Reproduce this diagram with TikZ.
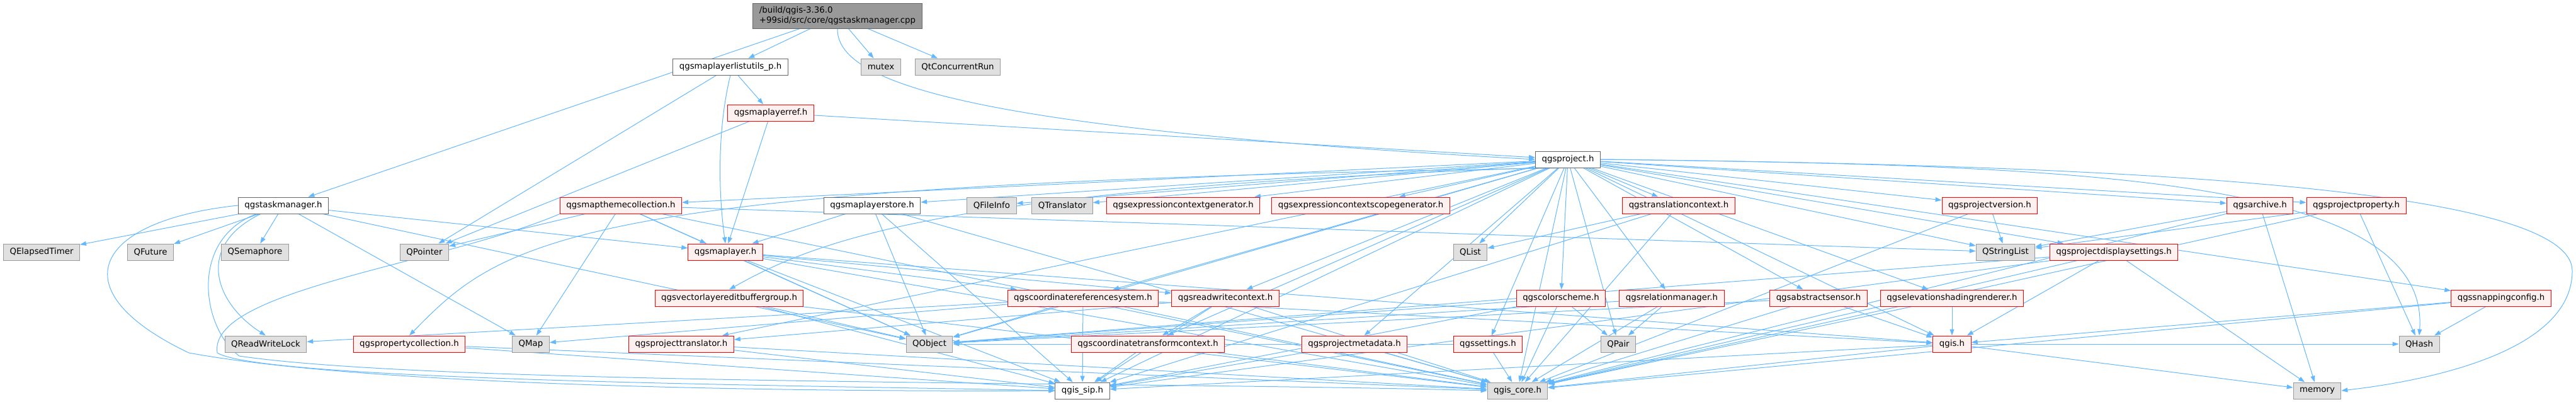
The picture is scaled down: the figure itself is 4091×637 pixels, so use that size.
\documentclass[tikz,border=0pt]{standalone}
\usepackage{fontspec}
\setmainfont{DejaVu Sans}
\usetikzlibrary{arrows.meta,backgrounds}
\definecolor{edgec}{HTML}{63B8FF}
\definecolor{bordgray}{HTML}{666666}
\definecolor{bordlight}{HTML}{999999}
\definecolor{rootfill}{HTML}{999999}
\definecolor{pinkfill}{HTML}{FFF0F0}
\definecolor{grayfill}{HTML}{E0E0E0}
\definecolor{redbord}{HTML}{FF0000}
\tikzset{
  basebox/.style={draw, line width=0.75pt, font=\fontsize{10pt}{12pt}\selectfont,
    inner xsep=7.5pt, inner ysep=0pt, minimum height=19.5pt, anchor=center, text=black},
  whitebox/.style={basebox, draw=bordgray, fill=white},
  redbox/.style={basebox, draw=redbord, fill=pinkfill},
  graybox/.style={basebox, draw=bordlight, fill=grayfill},
  rootbox/.style={basebox, draw=bordgray, fill=rootfill, align=left, minimum height=30pt},
  edge/.style={draw=edgec, line width=0.75pt, -{Triangle[length=7.5pt,width=5.25pt]}}
}
\begin{document}
\begin{tikzpicture}[x=0.75pt,y=-0.75pt]
\useasboundingbox (0,0) rectangle (4091,637);
% row 0
\node[rootbox] (root) at (1330,25) {/build/qgis-3.36.0\\+99sid/src/core/qgstaskmanager.cpp};
% row 1
\node[whitebox] (listutils) at (1160,106) {qgsmaplayerlistutils\_p.h};
\node[graybox] (mutex) at (1399,106) {mutex};
\node[graybox] (qtconc) at (1521,106) {QtConcurrentRun};
% row 2
\node[redbox] (layerref) at (1224,179) {qgsmaplayerref.h};
% row 3
\node[whitebox] (project) at (2490,253) {qgsproject.h};
% row 4
\node[whitebox] (taskmgr) at (450,326) {qgstaskmanager.h};
\node[redbox] (themecoll) at (986,326) {qgsmapthemecollection.h};
\node[whitebox] (layerstore) at (1385,326) {qgsmaplayerstore.h};
\node[graybox] (qfileinfo) at (1575,326) {QFileInfo};
\node[graybox] (qtranslator) at (1687,326) {QTranslator};
\node[redbox] (exprgen) at (1879,326) {qgsexpressioncontextgenerator.h};
\node[redbox] (exprscope) at (2161,326) {qgsexpressioncontextscopegenerator.h};
\node[redbox] (transctx) at (2666,326) {qgstranslationcontext.h};
\node[redbox] (projversion) at (3160,326) {qgsprojectversion.h};
\node[redbox] (archive) at (3589,326) {qgsarchive.h};
\node[redbox] (projprop) at (3742,326) {qgsprojectproperty.h};
% row 5
\node[graybox] (elapsed) at (66,400) {QElapsedTimer};
\node[graybox] (future) at (239,400) {QFuture};
\node[graybox] (semaphore) at (405,400) {QSemaphore};
\node[graybox] (qpointer) at (674,400) {QPointer};
\node[redbox] (maplayer) at (1152,400) {qgsmaplayer.h};
\node[graybox] (qlist) at (2335,400) {QList};
\node[graybox] (qstringlist) at (3185,400) {QStringList};
\node[redbox] (dispset) at (3357,400) {qgsprojectdisplaysettings.h};
% row 6
\node[redbox] (vlebg) at (1158,473) {qgsvectorlayereditbuffergroup.h};
\node[redbox] (crs) at (1720,473) {qgscoordinatereferencesystem.h};
\node[redbox] (rwctx) at (1946,473) {qgsreadwritecontext.h};
\node[redbox] (colorscheme) at (2479,473) {qgscolorscheme.h};
\node[redbox] (relmgr) at (2655,473) {qgsrelationmanager.h};
\node[redbox] (sensor) at (2888,473) {qgsabstractsensor.h};
\node[redbox] (elevation) at (3100,473) {qgselevationshadingrenderer.h};
\node[redbox] (snapping) at (3972,473) {qgssnappingconfig.h};
% row 7
\node[graybox] (rwlock) at (422,546) {QReadWriteLock};
\node[redbox] (propcoll) at (650,546) {qgspropertycollection.h};
\node[graybox] (qmap) at (843,546) {QMap};
\node[redbox] (translator) at (1082,546) {qgsprojecttranslator.h};
\node[graybox] (qobject) at (1476,546) {QObject};
\node[redbox] (ctctx) at (1823,546) {qgscoordinatetransformcontext.h};
\node[redbox] (metadata) at (2151,546) {qgsprojectmetadata.h};
\node[redbox] (settings) at (2363,546) {qgssettings.h};
\node[graybox] (qpair) at (2570,546) {QPair};
\node[redbox] (qgis) at (3100,546) {qgis.h};
\node[graybox] (qhash) at (3842,546) {QHash};
% row 8
\node[whitebox] (sip) at (1719,620) {qgis\_sip.h};
\node[graybox] (core) at (2410,620) {qgis\_core.h};
\node[graybox] (memory) at (3680,620) {memory};

\begin{pgfonlayer}{background}
% curved connectors routed like the reference
\draw[edge] (root.south) .. controls (1328,135) and (1560,205) .. (project.west);
\draw[edge] (taskmgr.west) .. controls (150,350) and (90,460) .. (300,560)
  .. controls (600,615) and (1300,622) .. (sip.west);
\draw[edge] ([xshift=-32pt]taskmgr.south) .. controls (300,380) and (320,520) .. (380,565)
  .. controls (700,612) and (1800,605) .. (core.west);
\draw[edge] ([xshift=-27pt]taskmgr.south) .. controls (310,390) and (340,480) .. (rwlock.north);
\draw[edge] (themecoll.south west) .. controls (700,420) and (330,460) .. (345,560)
  .. controls (420,605) and (1300,612) .. (sip.west);
\draw[edge] (listutils.south) .. controls (1140,200) and (1140,300) .. (maplayer.north);
\draw[edge] (project.south west) .. controls (1500,300) and (1300,380) .. (vlebg.north);
\draw[edge] (project.south) .. controls (900,290) and (800,380) .. (propcoll.north);
\draw[edge] (project.east) .. controls (3400,262) and (4085,300) .. (4085,430)
  .. controls (4085,560) and (3850,605) .. (memory.east);
\draw[edge] (project.east) .. controls (3300,262) and (3860,280) .. (qhash.north);
\foreach \a/\b in {root/taskmgr, root/listutils, root/mutex, root/qtconc,
  listutils/qpointer, listutils/layerref,
  layerref/qpointer, layerref/maplayer, layerref/project,
  taskmgr/elapsed, taskmgr/future, taskmgr/semaphore, taskmgr/qobject,
  taskmgr/qmap, taskmgr/maplayer,
  themecoll/qpointer, themecoll/qmap, themecoll/maplayer, themecoll/qobject,
  themecoll/core, themecoll/qstringlist,
  layerstore/maplayer, layerstore/qobject, layerstore/sip, layerstore/core,
  maplayer/crs, maplayer/rwctx, maplayer/qobject, maplayer/sip, maplayer/core, maplayer/qgis,
  project/themecoll, project/layerstore, project/qfileinfo, project/qtranslator,
  project/exprgen, project/exprscope, project/transctx, project/projversion,
  project/archive, project/projprop, project/qlist, project/qstringlist,
  project/dispset, project/crs, project/rwctx, project/colorscheme,
  project/relmgr, project/sensor, project/elevation, project/snapping,
  project/translator, project/qobject, project/ctctx,
  project/metadata, project/settings, project/qpair, project/qgis,
  project/sip, project/core,
  transctx/qlist, transctx/core, transctx/sip,
  projversion/qstringlist, projversion/core,
  archive/qstringlist, archive/memory, archive/core,
  projprop/qstringlist, projprop/qhash, projprop/core,
  dispset/qobject, dispset/qgis, dispset/core, dispset/sip, dispset/memory,
  vlebg/qobject, vlebg/sip, vlebg/core,
  crs/rwlock, crs/qmap, crs/qobject, crs/sip, crs/core, crs/qgis,
  rwctx/ctctx, rwctx/translator, rwctx/core, rwctx/sip,
  colorscheme/qpair, colorscheme/core, colorscheme/qobject, colorscheme/sip,
  relmgr/qpair, relmgr/core, relmgr/qobject,
  sensor/qgis, sensor/qobject, sensor/core,
  elevation/qgis, elevation/core,
  snapping/qhash, snapping/qgis, snapping/core,
  propcoll/core, propcoll/sip,
  translator/core, translator/sip,
  ctctx/sip, ctctx/core,
  metadata/core, metadata/sip,
  settings/core, settings/qobject,
  qgis/memory, qgis/core, qgis/sip, qgis/qhash}
  \draw[edge] (\a) -- (\b);
\end{pgfonlayer}
\end{tikzpicture}
\end{document}
